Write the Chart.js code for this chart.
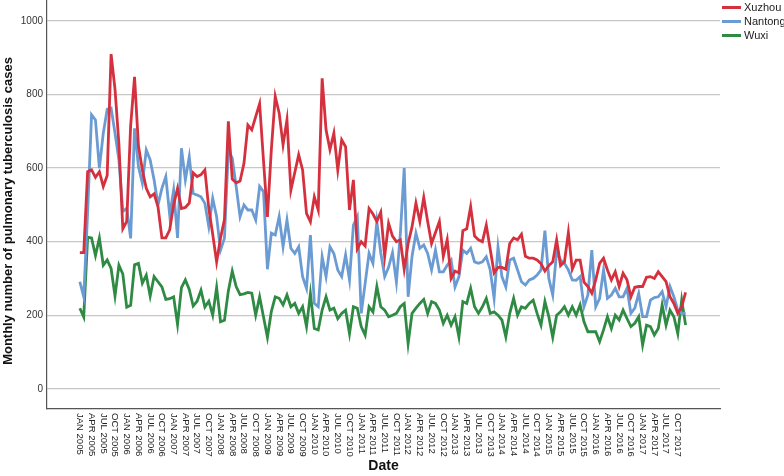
<!DOCTYPE html>
<html>
<head>
<meta charset="utf-8">
<script src="https://cdn.jsdelivr.net/npm/chart.js@4.4.0/dist/chart.umd.min.js"></script>
<style>
  html, body { margin: 0; padding: 0; background: #fff; }
  #wrap { width: 784px; height: 476px; }
</style>
</head>
<body>
<div id="wrap"><canvas id="tbChart" width="784" height="476"></canvas></div>
<script>
// monthly labels, JAN 2005 .. DEC 2017
const monthNames = ['JAN', 'FEB', 'MAR', 'APR', 'MAY', 'JUN', 'JUL', 'AUG', 'SEP', 'OCT', 'NOV', 'DEC'];
const years = [2005, 2006, 2007, 2008, 2009, 2010, 2011, 2012, 2013, 2014, 2015, 2016, 2017];
const months = [];
years.forEach(y => monthNames.forEach(m => months.push(m + ' ' + y)));

const seriesNames = ['Xuzhou', 'Nantong', 'Wuxi'];
const seriesColors = ['#d5303e', '#6b9bd3', '#2f8a44'];

const xuzhou = [
    370, 370, 590, 595, 575, 590, 550, 580, 910, 815,
    665, 435, 455, 715, 848, 660, 595, 545, 522, 530,
    495, 410, 410, 432, 500, 545, 490, 493, 505, 587,
    577, 582, 595, 490, 420, 345, 410, 460, 727, 570,
    560, 565, 613, 717, 704, 740, 775, 620, 467, 650,
    795, 750, 663, 731, 540, 588, 636, 595, 477, 454,
    522, 486, 844, 704, 650, 695, 595, 677, 658, 486,
    568, 380, 400, 388, 490, 475, 455, 480, 360, 450,
    415, 400, 405, 325, 395, 440, 505, 455, 520, 455,
    395, 425, 455, 360, 405, 300, 320, 315, 430, 435,
    495, 415, 405, 400, 445, 380, 315, 330, 330, 325,
    395, 410, 405, 420, 360, 355, 355, 350, 340, 320,
    335, 345, 405, 335, 345, 425, 325, 350, 350, 290,
    278, 260, 296, 341, 355, 323, 296, 318, 278, 314,
    296, 250, 276, 278, 278, 303, 305, 300, 318, 305,
    291, 250, 232, 205, 223, 262
];

const nantong = [
    291, 250, 480, 745, 731, 600, 695, 760, 763, 695,
    622, 482, 491, 409, 708, 604, 559, 649, 622, 568,
    500, 545, 577, 472, 540, 410, 654, 568, 631, 531,
    527, 522, 504, 441, 518, 468, 377, 409, 649, 627,
    550, 468, 500, 486, 486, 459, 550, 536, 325, 423,
    418, 468, 386, 459, 382, 368, 386, 305, 273, 418,
    232, 223, 359, 305, 386, 368, 323, 305, 364, 296,
    445, 468, 205, 286, 368, 341, 454, 370, 305, 330,
    370, 290, 420, 600, 250, 360, 423, 382, 391, 368,
    323, 377, 318, 318, 336, 350, 277, 305, 377, 368,
    382, 345, 341, 345, 359, 323, 246, 386, 305, 277,
    350, 355, 323, 291, 282, 296, 300, 309, 323, 430,
    300, 255, 373, 350, 341, 323, 296, 295, 305, 223,
    255, 377, 223, 246, 323, 246, 255, 273, 250, 250,
    273, 205, 219, 259, 196, 196, 241, 248, 250, 264,
    223, 278, 250, 214, 205, 205
];

const wuxi = [
    219, 195, 412, 410, 362, 410, 336, 350, 327, 252,
    336, 312, 222, 227, 337, 341, 287, 309, 252, 305,
    291, 277, 243, 245, 250, 175, 275, 296, 270, 225,
    238, 268, 222, 238, 200, 275, 182, 186, 266, 320,
    278, 256, 258, 262, 260, 200, 250, 195, 140, 210,
    250, 246, 228, 255, 223, 232, 205, 223, 169, 259,
    164, 160, 214, 250, 214, 219, 191, 205, 214, 150,
    223, 219, 169, 146, 223, 209, 278, 223, 214, 196,
    200, 205, 223, 232, 123, 205, 219, 232, 243, 205,
    237, 232, 214, 178, 200, 173, 196, 141, 237, 232,
    273, 223, 205, 223, 246, 205, 209, 200, 187, 141,
    205, 246, 200, 223, 219, 232, 241, 205, 173, 237,
    196, 140, 200, 209, 223, 200, 223, 200, 228, 182,
    155, 155, 155, 128, 160, 196, 164, 200, 187, 214,
    191, 169, 178, 196, 119, 173, 169, 146, 164, 228,
    173, 214, 196, 150, 241, 173
];

const yTicks = [0, 200, 400, 600, 800, 1000];
const labelStep = 3;

const FONT = 'Arial, "Liberation Sans", sans-serif';

// draws rotated month labels, axis titles and the legend
const decorations = {
    id: 'decorations',
    afterDraw(chart) {
        const ctx = chart.ctx;
        const xs = chart.scales.x;
        const area = chart.chartArea;

        ctx.save();
        ctx.fillStyle = '#222';
        ctx.font = '9.5px ' + FONT;
        ctx.textAlign = 'left';
        ctx.textBaseline = 'middle';
        for (let i = 0; i < months.length; i += labelStep) {
            const px = xs.getPixelForValue(i);
            ctx.save();
            ctx.translate(px, area.bottom + 4);
            ctx.rotate(Math.PI / 2);
            ctx.fillText(months[i], 0, 0);
            ctx.restore();
        }

        ctx.font = 'bold 14px ' + FONT;
        ctx.textAlign = 'center';
        ctx.textBaseline = 'middle';
        ctx.fillStyle = '#111';
        ctx.fillText('Date', (area.left + area.right) / 2, 466);

        ctx.save();
        ctx.translate(8, 211);
        ctx.rotate(-Math.PI / 2);
        ctx.font = 'bold 13px ' + FONT;
        ctx.fillText('Monthly number of pulmonary tuberculosis cases', 0, 0);
        ctx.restore();

        ctx.font = '11px ' + FONT;
        ctx.textAlign = 'left';
        ctx.fillStyle = '#222';
        seriesNames.forEach((name, k) => {
            const ly = 7.5 + k * 14;
            ctx.strokeStyle = seriesColors[k];
            ctx.lineWidth = 3;
            ctx.beginPath();
            ctx.moveTo(722, ly);
            ctx.lineTo(741, ly);
            ctx.stroke();
            ctx.fillText(name, 744, ly + 0.5);
        });
        ctx.restore();
    }
};

const datasets = [xuzhou, nantong, wuxi].map((vals, k) => ({
    label: seriesNames[k],
    data: vals.map((v, i) => ({ x: i, y: v })),
    borderColor: seriesColors[k],
    backgroundColor: seriesColors[k],
    borderWidth: 2.8,
    pointRadius: 0,
    tension: 0,
    fill: false
}));

new Chart(document.getElementById('tbChart').getContext('2d'), {
    type: 'line',
    data: { datasets: datasets },
    plugins: [decorations],
    options: {
        responsive: false,
        animation: false,
        layout: { padding: { top: 0, right: 64, left: 0, bottom: 0 } },
        plugins: {
            legend: { display: false },
            tooltip: { enabled: false }
        },
        scales: {
            x: {
                type: 'linear',
                min: -8.4,
                max: 163.8,
                grid: { display: false, drawTicks: false },
                border: { display: true, color: '#555', width: 1.2 },
                ticks: { display: false },
                afterFit(scale) { scale.height = 67; scale.paddingLeft = 0; scale.paddingRight = 0; }
            },
            y: {
                min: -55,
                max: 1057,
                afterBuildTicks(axis) { axis.ticks = yTicks.map(v => ({ value: v })); },
                grid: { color: '#c8c8c8', lineWidth: 1.2, drawTicks: false },
                border: { display: true, color: '#555', width: 1.2 },
                ticks: {
                    color: '#333',
                    font: { family: FONT, size: 10 },
                    padding: 4,
                    callback: v => String(v)
                },
                afterFit(scale) { scale.width = 47; scale.paddingTop = 0; scale.paddingBottom = 0; }
            }
        }
    }
});
</script>
</body>
</html>
